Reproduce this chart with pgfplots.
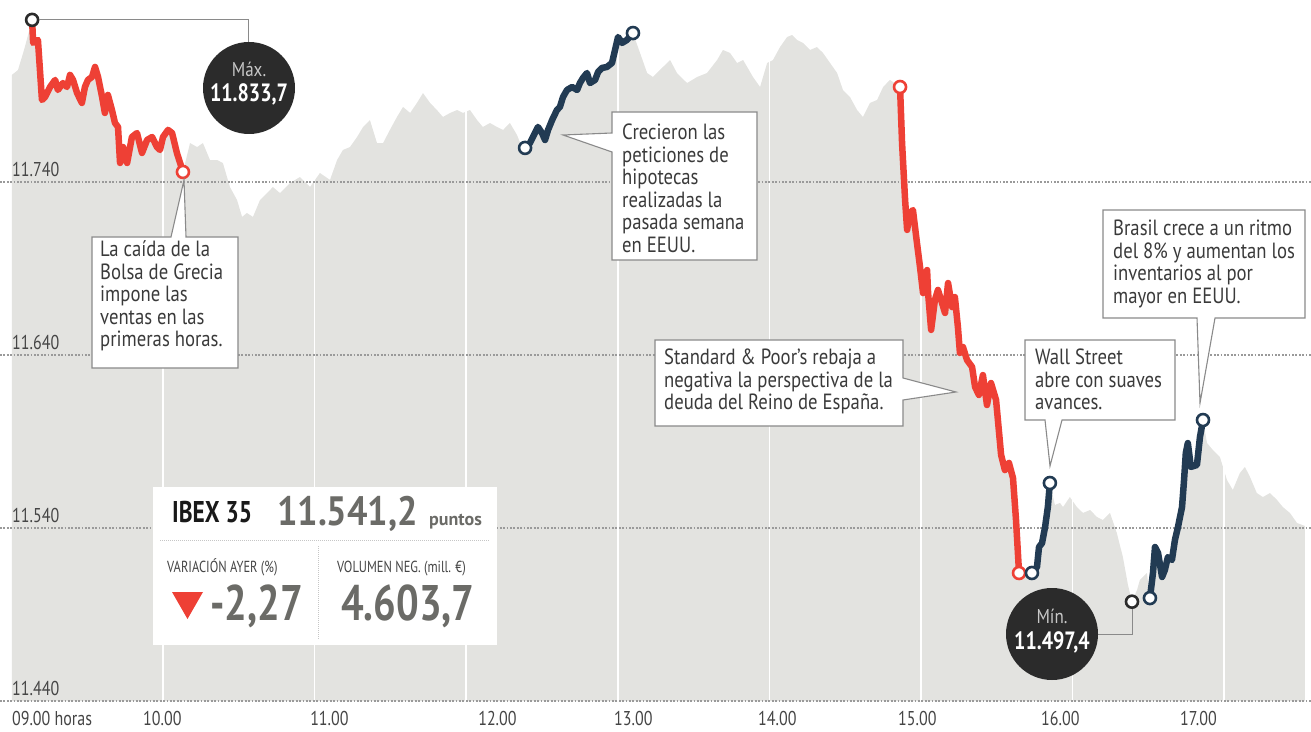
\documentclass[border=0pt]{standalone}
\usepackage{fontspec}
\setmainfont{PT Sans}
\newfontfamily\tickfont[FakeStretch=0.8]{PT Sans}
\newfontfamily\annfont[FakeStretch=0.85]{PT Sans}
\newfontfamily\capsfont[FakeStretch=0.78]{PT Sans}
\newfontfamily\bignum[FakeStretch=0.88]{PT Sans}
\usepackage{pgfplots}
\pgfplotsset{compat=1.18}
\usepackage{pgfplotstable}

\definecolor{ibexred}{HTML}{EE4035}
\definecolor{ibexblue}{HTML}{223B53}
\definecolor{areagrey}{HTML}{E3E3E0}
\definecolor{txtgrey}{HTML}{454545}
\definecolor{anntext}{HTML}{3A3A3A}
\definecolor{bubble}{HTML}{2B2B2B}
\definecolor{bubtext}{HTML}{C8C8C8}
\definecolor{numgrey}{HTML}{6B6B67}
\definecolor{gridgrey}{HTML}{9A9A9A}
\definecolor{boxline}{HTML}{8A8A8A}

% minutes after 09.00 ; IBEX 35 points
\pgfplotstableread{
m v
0.2 11801.9
2.6 11804.7
5.0 11816.3
6.6 11825.0
8.2 11833.7
8.6 11820.4
10.5 11822.1
12.1 11787.4
13.3 11789.1
15.3 11794.9
17.3 11799.0
18.4 11793.2
20.4 11797.2
22.0 11794.9
23.2 11801.9
24.4 11799.0
26.0 11791.4
27.9 11785.7
29.1 11794.9
30.3 11799.0
31.9 11800.7
33.1 11806.5
34.3 11800.7
35.9 11789.1
37.0 11779.9
38.2 11790.3
39.8 11781.6
41.0 11774.1
42.2 11771.8
43.0 11751.0
44.2 11760.2
45.8 11751.0
47.7 11766.0
49.7 11768.3
51.7 11756.8
53.7 11764.3
55.7 11766.0
57.6 11760.2
58.8 11758.5
60.0 11766.0
62.0 11770.1
63.6 11768.3
65.5 11756.8
67.9 11745.8
70.7 11762.5
73.5 11760.2
75.8 11762.5
78.6 11752.7
81.4 11752.7
83.7 11751.0
86.5 11737.1
89.3 11729.6
91.3 11719.8
93.2 11722.1
95.6 11719.8
98.4 11729.6
101.2 11733.6
103.5 11737.1
106.3 11733.6
110.3 11739.4
114.2 11742.9
118.2 11737.1
122.1 11745.2
126.1 11741.2
128.9 11752.7
131.2 11758.5
134.0 11760.2
136.8 11766.0
139.2 11771.8
141.9 11775.8
144.7 11762.5
147.1 11762.5
149.8 11770.1
152.6 11777.6
155.0 11783.4
157.8 11779.9
160.5 11785.7
162.9 11791.4
165.7 11785.7
168.4 11781.6
170.8 11777.6
173.6 11779.9
176.4 11781.6
178.7 11779.9
181.5 11781.6
184.3 11775.8
186.6 11771.8
189.4 11774.1
192.2 11771.8
194.6 11770.1
197.3 11774.1
200.1 11767.2
201.7 11761.4
203.3 11759.7
205.2 11762.5
207.2 11768.3
208.4 11771.8
210.0 11768.3
211.2 11764.3
212.4 11770.1
214.0 11775.8
215.9 11781.6
217.1 11783.4
218.3 11789.1
219.9 11793.2
221.9 11794.9
223.9 11793.2
225.0 11797.2
226.2 11800.1
227.8 11803.0
229.0 11797.2
231.0 11799.0
232.2 11803.6
233.7 11805.9
235.7 11806.5
237.7 11808.8
238.9 11816.3
240.1 11823.8
241.7 11820.4
243.6 11822.1
246.0 11826.1
248.8 11814.6
251.6 11803.0
253.9 11800.7
257.9 11806.5
260.7 11810.5
263.4 11803.0
267.4 11797.2
271.4 11800.7
275.3 11803.0
279.3 11810.5
281.6 11816.3
284.4 11814.6
287.2 11808.8
289.6 11810.5
293.5 11800.7
296.3 11794.9
299.1 11808.8
301.4 11810.5
304.2 11818.0
307.0 11823.8
309.0 11825.0
310.9 11822.1
313.3 11820.4
316.1 11816.3
318.8 11818.0
321.2 11814.6
324.0 11808.8
326.8 11803.0
329.1 11793.2
331.9 11789.1
334.7 11781.6
337.0 11777.6
339.8 11785.7
342.6 11787.4
345.0 11794.9
347.7 11799.0
350.1 11796.6
351.7 11794.9
352.5 11762.5
353.7 11729.6
354.5 11712.3
355.6 11722.1
356.8 11723.8
358.4 11704.7
359.6 11690.9
360.8 11675.8
362.4 11689.1
362.8 11675.8
364.0 11654.5
365.5 11671.8
366.7 11677.6
368.3 11670.1
369.5 11664.3
370.7 11681.6
372.3 11667.7
373.4 11673.5
374.6 11656.2
375.4 11641.2
376.6 11644.6
378.2 11637.1
380.2 11633.1
381.4 11621.5
382.9 11616.9
384.5 11628.4
386.1 11611.1
387.7 11623.8
389.7 11614.0
391.7 11582.2
393.2 11573.5
394.8 11577.6
396.4 11568.9
397.6 11544.6
398.8 11514.0
401.1 11512.8
403.9 11514.0
405.9 11517.5
406.7 11529.0
407.9 11531.3
409.1 11540.6
410.2 11552.1
411.0 11566.0
413.0 11553.3
415.0 11554.5
416.2 11552.1
418.9 11557.9
421.7 11552.1
424.1 11548.7
426.9 11550.4
429.6 11546.4
432.0 11544.6
434.8 11548.7
437.5 11537.1
439.9 11523.2
441.9 11507.1
443.5 11497.4
445.5 11504.2
446.6 11509.9
449.4 11514.0
450.6 11499.5
451.8 11514.0
452.6 11529.0
453.8 11525.6
455.4 11511.7
456.5 11515.7
457.7 11523.2
459.3 11521.5
460.5 11533.1
461.7 11540.6
463.3 11552.1
464.1 11567.7
464.8 11583.4
465.6 11589.1
466.8 11575.3
469.2 11576.4
470.4 11592.6
471.6 11602.4
473.2 11589.1
475.5 11585.1
478.3 11581.0
481.1 11567.7
483.4 11562.0
486.2 11571.8
488.2 11575.3
490.2 11569.5
492.9 11560.2
495.3 11557.9
498.1 11560.2
500.9 11556.2
503.2 11552.1
506.0 11548.7
508.8 11542.9
511.9 11541.2
}\ibexdata

\newcommand{\annsize}{\fontsize{22}{22.5}\selectfont}

\begin{document}
\begin{tikzpicture}
\begin{axis}[
  width=1311pt, height=701pt, scale only axis,
  xmin=-4.51, xmax=514.35, ymin=11440, ymax=11845.2,
  axis line style={draw=none},
  axis on top=true,
  major tick length=0pt,
  xtick={0.2,52.1,118.2,184.7,238.5,295.5,350.9,407.5,462.5},
  xticklabels={09.00 horas,10.00,11.00,12.00,13.00,14.00,15.00,16.00,17.00},
  xticklabel style={anchor=north west, inner sep=0pt, yshift=-10pt,
    font=\tickfont\fontsize{20}{20}\selectfont, text=txtgrey},
  ytick={11440,11540,11640,11740},
  yticklabels={11.440,11.540,11.640,11.740},
  yticklabel style={anchor=south west, inner sep=0pt, xshift=12pt, yshift=5pt,
    font=\tickfont\fontsize{20}{20}\selectfont, text=txtgrey},
]
\coordinate (TL) at (rel axis cs:0,1);
\addplot[fill=areagrey, draw=none] table[x=m, y=v] {\ibexdata} \closedcycle;
\pgfplotsinvokeforeach{60,120,180,240,300,360,420,480}{
  \draw[white, line width=1.6pt] (axis cs:#1,11440) -- (axis cs:#1,11845);
}
\pgfplotsinvokeforeach{11440,11540,11640,11740}{
  \draw[gridgrey, line width=1.1pt, dash pattern=on 1.8pt off 1.6pt] (axis cs:-4.51,#1) -- (axis cs:514.35,#1);
}
\addplot[ibexred, line width=6.5pt, line join=round, restrict x to domain=8:68] table[x=m, y=v] {\ibexdata};
\addplot[ibexred, line width=6.5pt, line join=round, restrict x to domain=351.5:399] table[x=m, y=v] {\ibexdata};
\addplot[ibexblue, line width=6.5pt, line join=round, restrict x to domain=203:246.5] table[x=m, y=v] {\ibexdata};
\addplot[ibexblue, line width=6.5pt, line join=round, restrict x to domain=403.5:411.5] table[x=m, y=v] {\ibexdata};
\addplot[ibexblue, line width=6.5pt, line join=round, restrict x to domain=450.5:472] table[x=m, y=v] {\ibexdata};
\addplot[only marks, mark=*, mark size=6pt, mark options={fill=white, draw=ibexred, line width=2.6pt}]
  coordinates {(67.9,11745.8) (351.7,11794.9) (398.8,11514.0)};
\addplot[only marks, mark=*, mark size=6pt, mark options={fill=white, draw=ibexblue, line width=2.6pt}]
  coordinates {(203.3,11759.7) (246.0,11826.1) (403.9,11514.0) (411.0,11566.0) (450.6,11499.5) (471.6,11602.4)};
\addplot[only marks, mark=*, mark size=6pt, mark options={fill=white, draw=bubble, line width=2.6pt}]
  coordinates {(8.2,11833.7) (443.5,11497.4)};
\end{axis}

\begin{scope}[shift={(TL)}, x=1pt, y=-1pt]
  % Max bubble
  \draw[boxline, line width=1pt] (39,20) -- (248,20) -- (248,44);
  \fill[bubble] (249,88) circle[radius=46pt];
  \node[font=\annfont\fontsize{20}{20}\selectfont, text=bubtext] at (249,69) {Máx.};
  \node[font=\tickfont\bfseries\fontsize{25}{25}\selectfont, text=white] at (249,94) {11.833,7};
  % Min bubble
  \draw[boxline, line width=1pt] (1098,634) -- (1132,634) -- (1132,609);
  \fill[bubble] (1052,634) circle[radius=46pt];
  \node[font=\annfont\fontsize{20}{20}\selectfont, text=bubtext] at (1052,616) {Mín.};
  \node[font=\tickfont\bfseries\fontsize{25}{25}\selectfont, text=white] at (1052,642) {11.497,4};

  % Grecia
  \draw[boxline, line width=1.1pt, fill=white] (92,237) -- (171,237) -- (184,180) -- (186,237) -- (238,237) -- (238,368) -- (92,368) -- cycle;
  \node[anchor=base west, inner sep=0pt, font=\annfont\annsize, text=anntext] at (100,257)
    {\begin{tabular}[t]{@{}l@{}}La caída de la\\Bolsa de Grecia\\impone las\\ventas en las\\primeras horas.\end{tabular}};
  % Crecieron
  \draw[boxline, line width=1.1pt, fill=white] (612,112) -- (757,112) -- (757,260) -- (612,260) -- (612,152) -- (563,135) -- (612,133) -- cycle;
  \node[anchor=base west, inner sep=0pt, font=\annfont\annsize, text=anntext] at (622,140)
    {\begin{tabular}[t]{@{}l@{}}Crecieron las\\peticiones de\\hipotecas\\realizadas la\\pasada semana\\en EEUU.\end{tabular}};
  % S&P
  \draw[boxline, line width=1.1pt, fill=white] (655,340) -- (903,340) -- (903,378) -- (956,392) -- (903,400) -- (903,426) -- (655,426) -- cycle;
  \node[anchor=base west, inner sep=0pt, font=\annfont\annsize, text=anntext] at (664,365)
    {\begin{tabular}[t]{@{}l@{}}Standard \& Poor’s rebaja a\\negativa la perspectiva de la\\deuda del Reino de España.\end{tabular}};
  % Wall Street
  \draw[boxline, line width=1.1pt, fill=white] (1025,340) -- (1175,340) -- (1175,420) -- (1062,420) -- (1050,466) -- (1045,420) -- (1025,420) -- cycle;
  \node[anchor=base west, inner sep=0pt, font=\annfont\annsize, text=anntext] at (1035,365)
    {\begin{tabular}[t]{@{}l@{}}Wall Street\\abre con suaves\\avances.\end{tabular}};
  % Brasil
  \draw[boxline, line width=1.1pt, fill=white] (1103,210) -- (1305,210) -- (1305,318) -- (1215,318) -- (1200,403) -- (1197,318) -- (1103,318) -- cycle;
  \node[anchor=base west, inner sep=0pt, font=\annfont\annsize, text=anntext] at (1113,236)
    {\begin{tabular}[t]{@{}l@{}}Brasil crece a un ritmo\\del 8\% y aumentan los\\inventarios al por\\mayor en EEUU.\end{tabular}};

  % IBEX box
  \fill[white] (153,487) rectangle (497,645);
  \draw[gray!45, line width=1pt, dash pattern=on 1pt off 1pt] (160,540) -- (490,540);
  \draw[gray!45, line width=1pt, dash pattern=on 1pt off 1pt] (318,546) -- (318,640);
  \node[anchor=base west, inner sep=0pt, font=\capsfont\bfseries\fontsize{30}{30}\selectfont, text=black!90] at (172,523) {IBEX 35};
  \node[anchor=base west, inner sep=0pt, font=\bignum\bfseries\fontsize{41}{41}\selectfont, text=numgrey] at (277,525) {11.541,2};
  \node[anchor=base west, inner sep=0pt, font=\bfseries\fontsize{18}{18}\selectfont, text=numgrey] at (429,526) {puntos};
  \node[anchor=base west, inner sep=0pt, font=\capsfont\fontsize{16}{16}\selectfont, text=txtgrey] at (167,572) {VARIACIÓN AYER (\%)};
  \node[anchor=base west, inner sep=0pt, font=\capsfont\fontsize{16}{16}\selectfont, text=txtgrey] at (337,572) {VOLUMEN NEG. (mill. €)};
  \fill[ibexred] (172,592) -- (203,592) -- (187.5,619) -- cycle;
  \node[anchor=base west, inner sep=0pt, font=\tickfont\bfseries\fontsize{50}{50}\selectfont, text=numgrey] at (210,620) {-2,27};
  \node[anchor=base west, inner sep=0pt, font=\tickfont\bfseries\fontsize{50}{50}\selectfont, text=numgrey] at (341,620) {4.603,7};
\end{scope}

\pgfresetboundingbox
\path[use as bounding box] (TL) rectangle ([xshift=1311pt, yshift=-731pt]TL);
\end{tikzpicture}
\end{document}
